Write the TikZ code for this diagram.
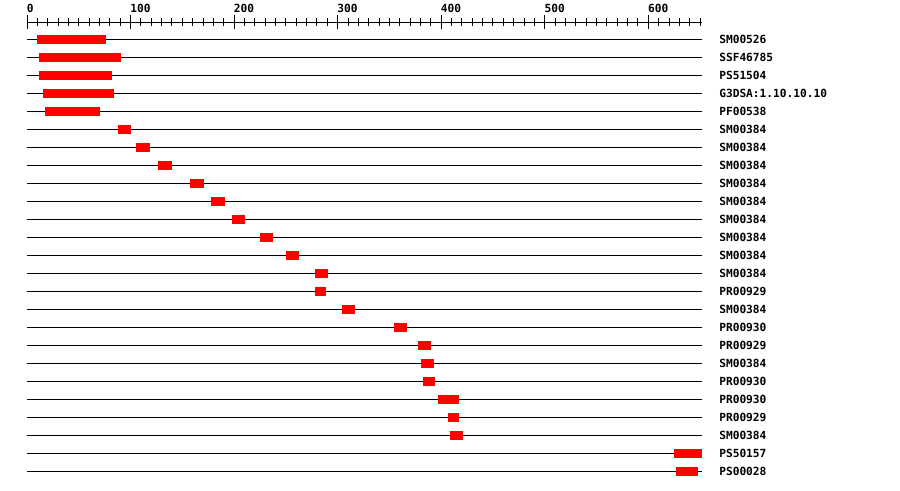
\documentclass[tikz,border=0pt]{standalone}
\usepackage{fontspec}
\newfontfamily\monofont{DejaVu Sans Mono}[BoldFont={DejaVu Sans Mono Bold}]
\tikzset{
  rowline/.style={line width=0.75pt, black},
  featbar/.style={fill=red, draw=none},
  lbl/.style={font=\monofont\bfseries\fontsize{8.4}{9}\selectfont, anchor=west, inner sep=0pt},
  axlbl/.style={font=\monofont\bfseries\fontsize{8.4}{9}\selectfont, anchor=west, inner sep=0pt},
  tickline/.style={line width=0.75pt, black}
}
\begin{document}
\begin{tikzpicture}[x=0.75pt, y=-0.75pt]
\useasboundingbox (0,0) rectangle (900,490);
% axis
\coordinate (ax0) at (27,22);
\coordinate (ax1) at (702,22);
\draw[tickline] (ax0) -- (ax1);
\foreach \i in {0,...,65} {
  \pgfmathsetmacro{\xx}{27+\i*10.355}
  \draw[tickline] (\xx,18) -- (\xx,26);
}
\foreach \v in {0,100,...,600} {
  \pgfmathsetmacro{\xx}{27+\v*1.0355}
  \draw[tickline] (\xx,15) -- (\xx,29);
  \node[axlbl] (t\v) at (\xx-0.5,8.5) {\v};
}
% rows
\foreach \y/\a/\b/\name [count=\k] in {
 39/37/106/SM00526,
 57/39/121/SSF46785,
 75/39/112/PS51504,
 93/43/114/G3DSA:1.10.10.10,
 111/45/100/PF00538,
 129/118/131/SM00384,
 147/136/150/SM00384,
 165/158/172/SM00384,
 183/190/204/SM00384,
 201/211/225/SM00384,
 219/232/245/SM00384,
 237/260/273/SM00384,
 255/286/299/SM00384,
 273/315/328/SM00384,
 291/315/326/PR00929,
 309/342/355/SM00384,
 327/394/407/PR00930,
 345/418/431/PR00929,
 363/421/434/SM00384,
 381/423/435/PR00930,
 399/438/459/PR00930,
 417/448/459/PR00929,
 435/450/463/SM00384,
 453/674/702/PS50157,
 471/676/698/PS00028} {
  \coordinate (l\k) at (27,\y);
  \coordinate (r\k) at (702,\y);
  \draw[rowline] (l\k) -- (r\k);
  \fill[featbar] (\a,\y-4.5) rectangle (\b,\y+4.5);
  \node[lbl] (n\k) at (719,\y) {\name};
}
\end{tikzpicture}
\end{document}
